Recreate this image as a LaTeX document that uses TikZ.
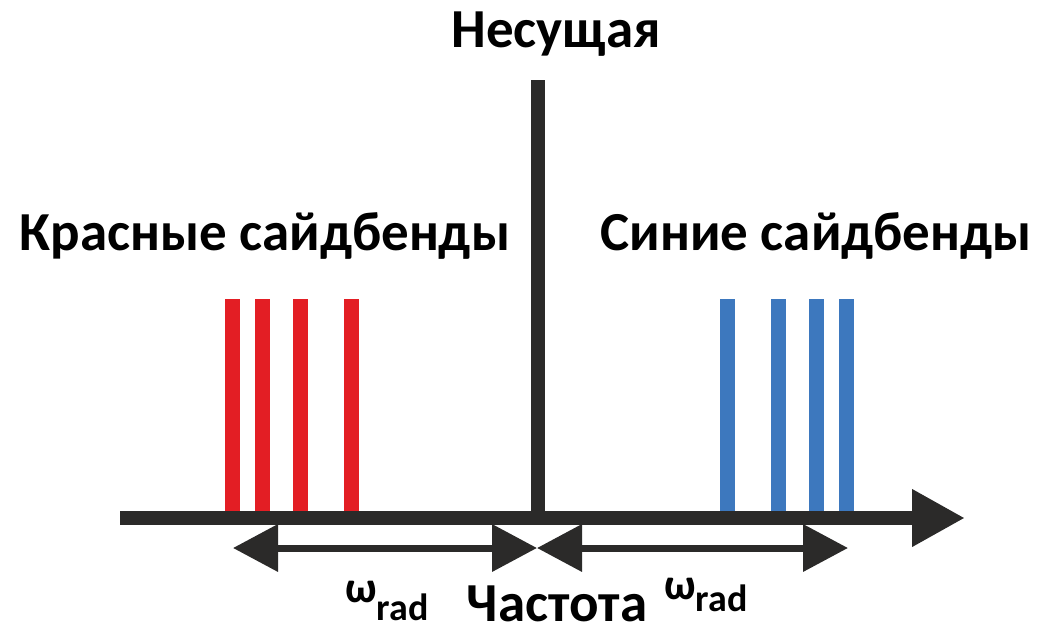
\documentclass[tikz,border=0pt]{standalone}
\usepackage{fontspec}
\setmainfont{Carlito}
\usetikzlibrary{arrows.meta}
\definecolor{sbred}{RGB}{227,30,36}
\definecolor{sbblue}{RGB}{61,120,190}
\definecolor{ink}{RGB}{43,42,41}
\tikzset{
  bigtxt/.style={font=\fontsize{55}{55}\selectfont\bfseries, anchor=base, inner sep=0pt, text=black},
  omtxt/.style={font=\bfseries, anchor=base west, inner sep=0pt, text=black},
  span/.style={ink, line width=7pt, {Triangle[length=45pt,width=46pt]}-{Triangle[length=45pt,width=46pt]}}
}
\newcommand{\wrad}[1]{{\fontsize{44}{44}\selectfont ω}\raisebox{-#1}{\fontsize{38}{38}\selectfont rad}}
\begin{document}
\begin{tikzpicture}[x=1pt,y=-1pt]
            \useasboundingbox (0,0) rectangle (1057,637);
            % axis and carrier
            \coordinate (axisL) at (120,518);
            \coordinate (axisR) at (965,518);
            \coordinate (car) at (538,518);
            \coordinate (carT) at (538,80);
            \coordinate (redL) at (233,548);
            \coordinate (mid) at (537,548);
            \coordinate (blueR) at (848,548);
            % sidebands
            \foreach \x in {232,262,300,351}
              \draw[sbred, line width=15pt] (\x,299) -- (\x,511);
            \foreach \x in {727,778,816,846}
              \draw[sbblue, line width=15pt] (\x,299) -- (\x,511);
            \draw[ink, line width=14pt] (car) -- (carT);
            \draw[ink, line width=14pt, -{Triangle[length=53pt,width=54pt]}] (axisL) -- (axisR);
            \draw[span] (redL) -- (mid);
            \draw[span] (mid) -- (blueR);
            % texts
            \node[bigtxt] (carrier) at (556,47) {Несущая};
            \node[bigtxt] (redtxt) at (265,250) {Красные сайдбенды};
            \node[bigtxt] (bluetxt) at (816,250) {Синие сайдбенды};
            \node[bigtxt] (freq) at (557,621) {Частота};
            \node[omtxt] (wL) at (345,602) {\wrad{18pt}};
            \node[omtxt] (wR) at (664,599) {\wrad{12pt}};
\end{tikzpicture}
\end{document}
